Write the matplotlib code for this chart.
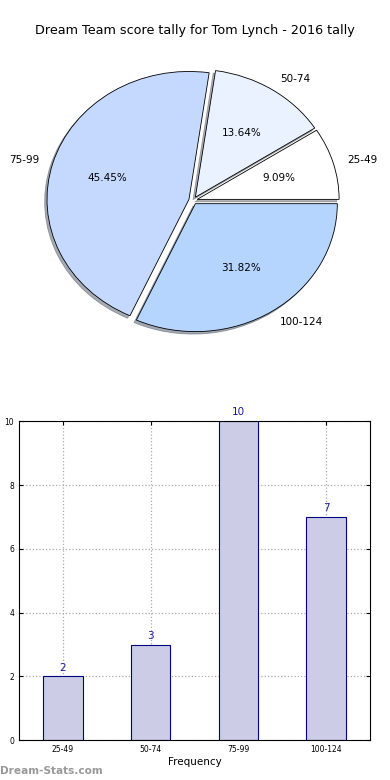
import numpy as np
import matplotlib.pyplot as plt

ranges = ['25-49', '50-74', '75-99', '100-124']
counts = [2, 3, 10, 7]
pie_colors = ['#FFFFFF', '#EAF1FF', '#C5D9FF', '#B5D5FF']

fig = plt.figure(figsize=(3.9, 7.8), dpi=100)

# pie on top, stretched like the old non-equal-aspect output
ax1 = fig.add_axes([0.04, 0.538, 0.91, 0.41])
ax1.pie(counts, labels=ranges, colors=pie_colors, autopct='%1.2f%%',
        explode=[0.03] * len(counts),
        shadow={'ox': -0.012, 'oy': -0.014, 'shade': 0.6},
        startangle=0,
        wedgeprops={'edgecolor': 'black', 'linewidth': 0.6},
        textprops={'fontsize': 7.5})
ax1.set_aspect('auto')
ax1.set_xlim(-1.25, 1.25)
ax1.set_ylim(-1.25, 1.25)
fig.text(0.5, 0.961, 'Dream Team score tally for Tom Lynch - 2016 tally',
         ha='center', va='center', fontsize=9.2)

# bar chart below
ax2 = fig.add_axes([0.049, 0.051, 0.9, 0.409])
x = np.arange(len(ranges))
ax2.bar(x, counts, width=0.45, color='#CCCCE6', edgecolor='#000080',
        linewidth=0.8, zorder=2)
for xi, c in zip(x, counts):
    ax2.text(xi, c + 0.12, str(c), ha='center', va='bottom',
             fontsize=7.5, color='#1a1a99')
ax2.set_xlim(-0.5, 3.5)
ax2.set_ylim(0, 10)
ax2.set_xticks(x)
ax2.set_xticklabels(ranges)
ax2.set_yticks([0, 2, 4, 6, 8, 10])
ax2.tick_params(labelsize=5.5, direction='in', length=3, top=True, right=True)
ax2.grid(True, linestyle=':', color='#aaaaaa', linewidth=0.9, zorder=0)
ax2.set_axisbelow(True)
ax2.set_xlabel('Frequency', fontsize=7.5, labelpad=2)
ax2.set_ylabel('Score Count', fontsize=7.5, labelpad=4)
for s in ax2.spines.values():
    s.set_linewidth(0.8)

fig.text(0.0, 0.012, 'Dream-Stats.com', fontsize=7.6, color='#999999',
         fontweight='bold', ha='left', va='center')

fig.savefig('out.png', dpi=100)
